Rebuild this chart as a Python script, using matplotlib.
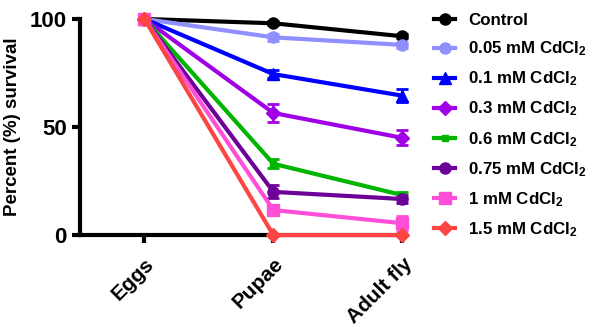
import numpy as np
import matplotlib.pyplot as plt
from matplotlib.lines import Line2D

plt.rcParams['font.family'] = ['Liberation Sans', 'DejaVu Sans']
plt.rcParams['font.weight'] = 'bold'
plt.rcParams['mathtext.fontset'] = 'custom'
plt.rcParams['mathtext.rm'] = 'Liberation Sans:bold'
plt.rcParams['mathtext.bf'] = 'Liberation Sans:bold'
plt.rcParams['mathtext.default'] = 'bf'

# 数据
stages = ['Eggs', 'Pupae', 'Adult fly']
labels = ['Control', '0.05 mM CdCl$_2$', '0.1 mM CdCl$_2$', '0.3 mM CdCl$_2$',
          '0.6 mM CdCl$_2$', '0.75 mM CdCl$_2$', '1 mM CdCl$_2$', '1.5 mM CdCl$_2$']
control = [100, 98, 92]
cd_005 = [100, 91.5, 88]
cd_01 = [100, 74.5, 64.5]
cd_03 = [100, 56.5, 45]
cd_06 = [100, 33, 18.5]
cd_075 = [100, 20, 16.7]
cd_1 = [100, 11.6, 5.5]
cd_15 = [100, 0, 0]
err_control = [0, 1, 1]
err_005 = [0, 1.5, 1.5]
err_01 = [0, 2, 3]
err_03 = [0, 4, 3.5]
err_06 = [0, 2, 1.5]
err_075 = [0, 3, 2]
err_1 = [0, 2, 3.5]
err_15 = [0, 0, 0]

series = [control, cd_005, cd_01, cd_03, cd_06, cd_075, cd_1, cd_15]
errors = [err_control, err_005, err_01, err_03, err_06, err_075, err_1, err_15]
colors = ['#000000', '#8f8fff', '#0000ff', '#a000e6', '#00b400', '#6c0099', '#ff4fd8', '#ff4444']
markers = ['o', 'o', '^', 'D', 's', 'o', 's', 'D']
msizes = [8, 8, 8, 7, 4, 8, 8, 7]

fig = plt.figure(figsize=(5.92, 3.27), dpi=100)
ax = fig.add_axes([0.135, 0.281, 0.549, 0.661])

x = np.arange(len(stages))
handles = []
for vals, err, c, m, ms, lab in zip(series, errors, colors, markers, msizes, labels):
    ax.errorbar(x, vals, yerr=err, color=c, marker=m, markersize=ms, lw=3,
                capsize=4, elinewidth=2, capthick=2, clip_on=False, zorder=3)
    handles.append(Line2D([], [], color=c, marker=m, markersize=ms, lw=3, label=lab))

ax.set_xlim(-0.5, 2.02)
ax.set_ylim(0, 100)
ax.set_yticks([0, 50, 100])
ax.set_xticks(x)
ax.set_xticklabels(stages, rotation=45, ha='right', rotation_mode='anchor', fontsize=15, fontweight='bold')
ax.tick_params(axis='y', labelsize=16, width=3, length=6)
ax.tick_params(axis='x', width=3, length=6, pad=8)
for t in ax.get_yticklabels():
    t.set_fontweight('bold')
ax.set_ylabel('Percent (%) survival', fontsize=13.5, fontweight='bold', labelpad=6)
ax.spines['top'].set_visible(False)
ax.spines['right'].set_visible(False)
ax.spines['left'].set_linewidth(3)
ax.spines['bottom'].set_linewidth(3)

leg = fig.legend(handles=handles, loc='upper left', bbox_to_anchor=(0.722, 0.98),
                 frameon=False, fontsize=12.2, handlelength=1.25, labelspacing=0.67,
                 handletextpad=0.75, borderaxespad=0)

fig.savefig('out.png', dpi=100)
